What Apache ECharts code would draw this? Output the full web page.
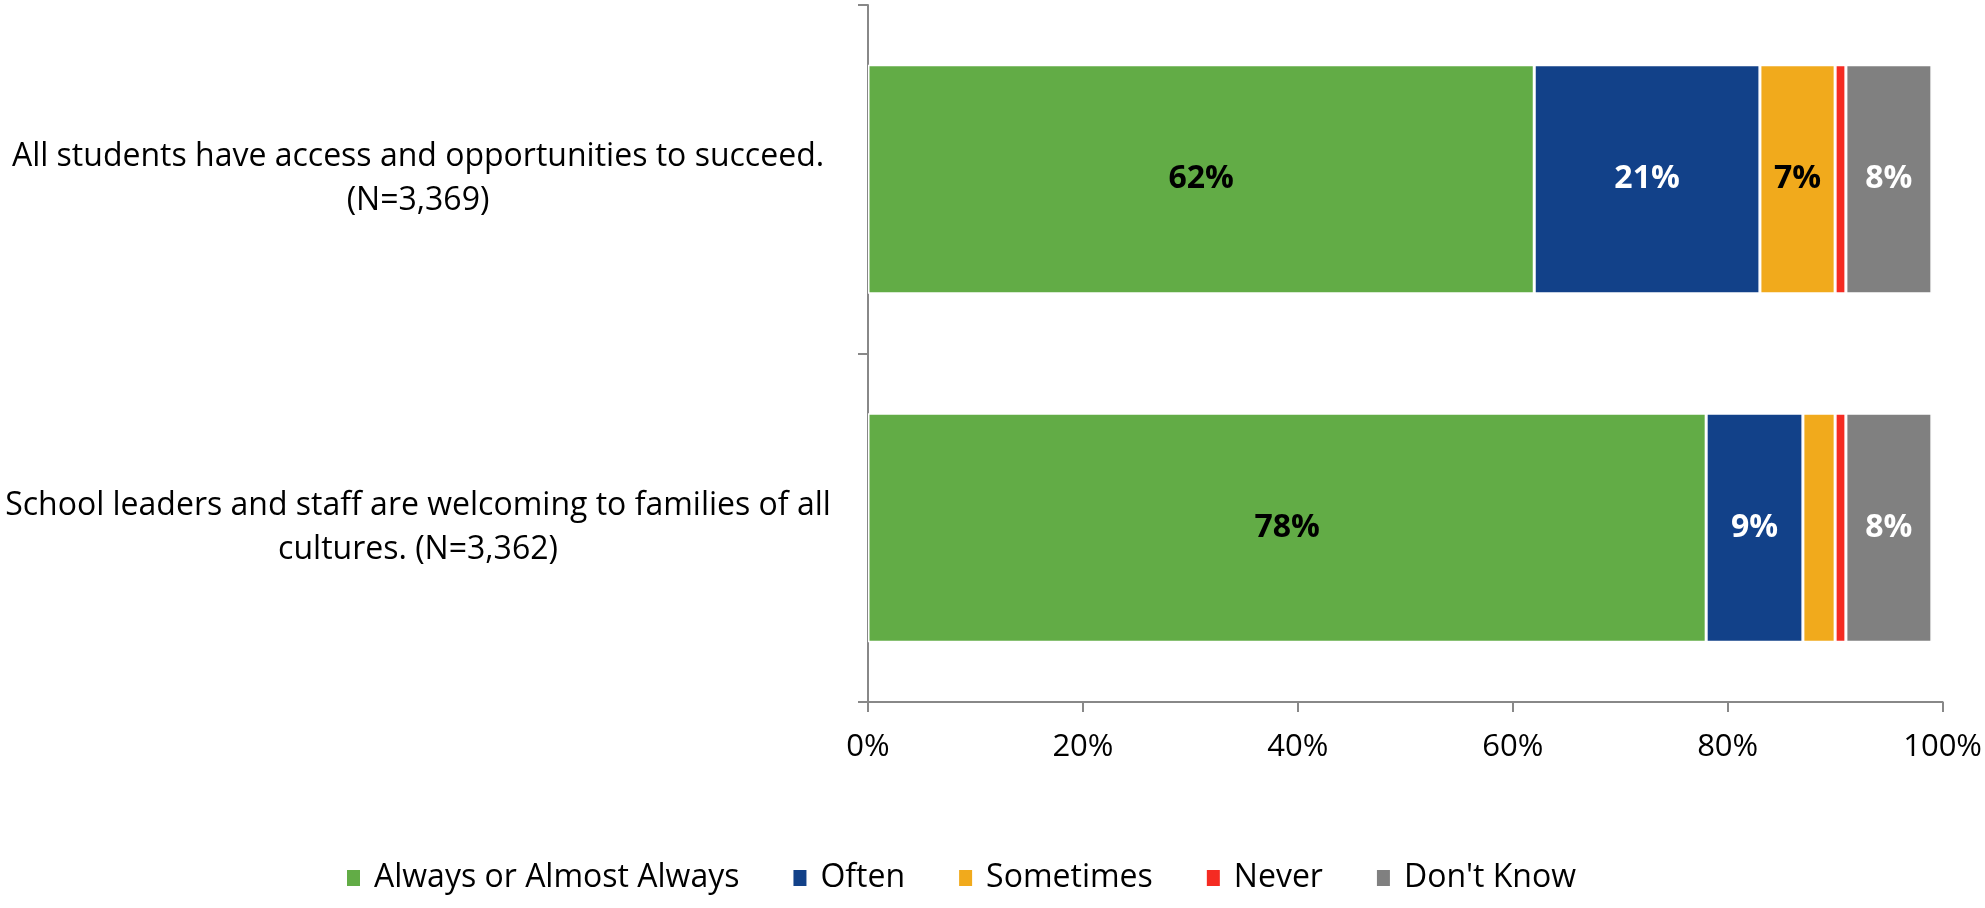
<!DOCTYPE html>
<html>
<head>
<meta charset="utf-8">
<script src="https://cdn.jsdelivr.net/npm/echarts@6/dist/echarts.min.js"></script>
<style>
  html, body { margin: 0; padding: 0; background: #fff; }
  #chart { width: 1985px; height: 908px; }
</style>
</head>
<body>
<div id="chart"></div>
<script>
const categories = [
  'All students have access and opportunities to succeed.\n(N=3,369)',
  'School leaders and staff are welcoming to families of all\ncultures. (N=3,362)'
];
const seriesNames = ['Always or Almost Always', 'Often', 'Sometimes', 'Never', "Don't Know"];
const always = [62, 78];
const often = [21, 9];
const sometimes = [7, 3];
const never = [1, 1];
const dontKnow = [8, 8];
const xTicks = [0, 20, 40, 60, 80, 100];

const colors = ['#62AC46', '#124189', '#F1AA1C', '#F52B22', '#808080'];
const labelColors = ['#000', '#fff', '#000', '#000', '#fff'];
const values = [always, often, sometimes, never, dontKnow];

const FONT = '"Open Sans", "Noto Sans", sans-serif';

const chart = echarts.init(document.getElementById('chart'));

const series = seriesNames.map((name, i) => ({
  name: name,
  type: 'bar',
  stack: 'total',
  barWidth: 229,
  data: values[i],
  itemStyle: { color: colors[i], borderColor: '#fff', borderWidth: 1.5 },
  label: {
    show: true,
    position: 'inside',
    color: labelColors[i],
    fontFamily: FONT,
    fontWeight: 'bold',
    fontSize: 32,
    formatter: p => (p.value >= 5 ? p.value + '%' : '')
  }
}));

chart.setOption({
  animation: false,
  color: colors,
  textStyle: { fontFamily: FONT },
  grid: { left: 868, right: 39, top: 5, bottom: 206 },
  legend: {
    data: seriesNames,
    left: 340,
    top: 857,
    itemWidth: 15,
    itemHeight: 18,
    itemGap: 52,
    icon: 'rect',
    textStyle: { fontFamily: FONT, fontSize: 32, color: '#000', padding: [0, 0, 0, 8] }
  },
  xAxis: {
    type: 'value',
    min: 0,
    max: 100,
    interval: 20,
    axisLine: { show: true, lineStyle: { color: '#888', width: 2 } },
    axisTick: { show: true, length: 10, lineStyle: { color: '#888', width: 2 } },
    splitLine: { show: false },
    axisLabel: {
      margin: 30,
      color: '#000',
      fontFamily: FONT,
      fontSize: 31,
      formatter: v => (xTicks.indexOf(v) >= 0 ? v + '%' : '')
    }
  },
  yAxis: {
    type: 'category',
    inverse: true,
    data: categories,
    axisLine: { show: true, lineStyle: { color: '#888', width: 2 } },
    axisTick: { show: true, length: 10, lineStyle: { color: '#888', width: 2 } },
    axisLabel: {
      margin: 450,
      align: 'center',
      color: '#000',
      fontFamily: FONT,
      fontSize: 32,
      lineHeight: 44
    }
  },
  series: series
});
</script>
</body>
</html>
